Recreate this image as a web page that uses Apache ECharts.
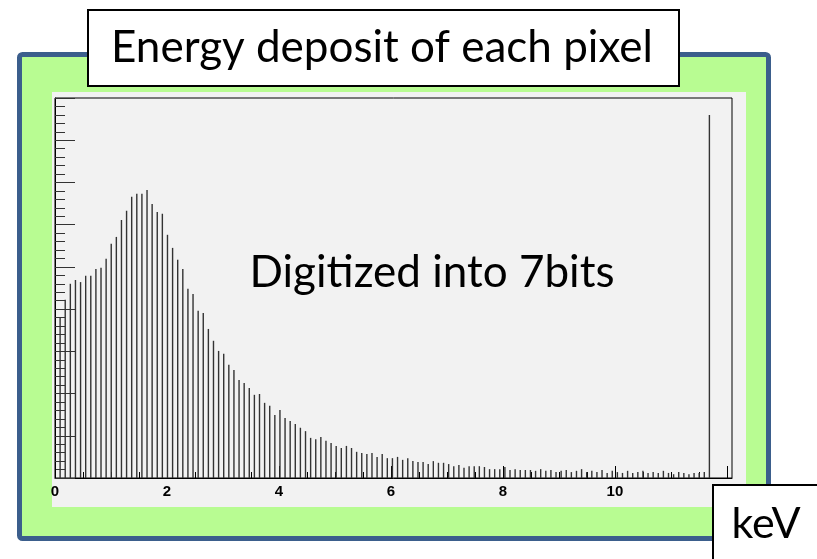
<!DOCTYPE html>
<html>
<head>
<meta charset="utf-8">
<script src="https://cdn.jsdelivr.net/npm/echarts@6/dist/echarts.min.js"></script>
<style>
html, body { margin: 0; padding: 0; background: #fff; }
#main { width: 817px; height: 559px; }
</style>
</head>
<body>
<div id="main"></div>
<script>
// energy per ADC channel (7 bits -> 128 channels)
const binWidth = 0.0913;
// counts per channel (arbitrary units, 100 per major y tick)
const counts = [
  379, 422, 460, 469, 464, 479, 479, 495, 498, 519,
  555, 571, 611, 633, 666, 673, 673, 682, 649, 630,
  626, 576, 545, 517, 495, 448, 436, 396, 391, 353,
  325, 301, 294, 268, 256, 232, 225, 213, 197, 199,
  178, 171, 149, 161, 142, 135, 128, 119, 111, 95,
  92, 97, 88, 83, 76, 71, 76, 71, 62, 59,
  57, 59, 50, 57, 47, 47, 50, 43, 47, 40,
  38, 38, 33, 40, 36, 36, 33, 28, 31, 24,
  28, 28, 28, 26, 21, 21, 21, 26, 19, 21,
  19, 19, 19, 17, 21, 17, 19, 14, 17, 19,
  14, 17, 21, 14, 17, 14, 19, 12, 17, 14,
  12, 17, 12, 14, 17, 12, 14, 12, 17, 12,
  9, 14, 12, 9, 12, 12, 14, 860
];
const xTickValues = [0, 2, 4, 6, 8, 10, 12];
const titleText = 'Energy deposit of each pixel';
const noteText = 'Digitized into 7bits';
const unitText = 'keV';

let chart = echarts.init(document.getElementById('main'));

let option = {
  backgroundColor: '#fff',
  animation: false,
  grid: {
    left: 55,
    top: 98,
    right: 85,
    bottom: 81,
    show: true,
    borderColor: '#000',
    borderWidth: 1,
    backgroundColor: 'transparent'
  },
  xAxis: {
    type: 'value',
    min: 0,
    max: 12.09,
    interval: 2,
    axisLine: { show: true, lineStyle: { color: '#000', width: 1 } },
    axisTick: {
      show: true, inside: true, length: 12,
      customValues: xTickValues,
      lineStyle: { color: '#000' }
    },
    minorTick: { show: true, splitNumber: 4, length: 6, lineStyle: { color: '#000' } },
    splitLine: { show: false },
    axisLabel: {
      show: true,
      margin: 6,
      color: '#000',
      fontFamily: 'Liberation Sans',
      fontWeight: 'bold',
      fontSize: 15,
      customValues: xTickValues
    }
  },
  yAxis: {
    type: 'value',
    min: 0,
    max: 900,
    interval: 100,
    axisLine: { show: true, lineStyle: { color: '#000', width: 1 } },
    axisTick: { show: true, inside: true, length: 20, lineStyle: { color: '#333' } },
    minorTick: { show: true, splitNumber: 5, length: 10, lineStyle: { color: '#333' } },
    splitLine: { show: false },
    axisLabel: { show: false }
  },
  series: [{
    type: 'bar',
    barWidth: 1.4,
    itemStyle: { color: '#333' },
    data: counts.map(function (v, i) {
      return [(i + 1) * binWidth, v];
    })
  }],
  graphic: [
    // green panel with blue border
    {
      type: 'rect',
      z: -10,
      shape: { x: 19.5, y: 54.5, width: 749, height: 484, r: 3 },
      style: { fill: '#b8fc92', stroke: '#3b5e8c', lineWidth: 5 }
    },
    // light plot canvas
    {
      type: 'rect',
      z: -9,
      shape: { x: 52, y: 92, width: 694, height: 415 },
      style: { fill: '#f2f2f2' }
    },
    // title box
    {
      type: 'rect',
      z: 100,
      shape: { x: 88, y: 10, width: 591, height: 76 },
      style: { fill: '#fff', stroke: '#000', lineWidth: 2 }
    },
    {
      type: 'text',
      z: 101,
      x: 382,
      y: 48,
      style: {
        text: titleText,
        fontFamily: 'Lato',
        fontSize: 44,
        fill: '#000',
        align: 'center',
        verticalAlign: 'middle'
      }
    },
    {
      type: 'text',
      z: 101,
      x: 432,
      y: 273,
      style: {
        text: noteText,
        fontFamily: 'Lato',
        fontSize: 44,
        fill: '#000',
        align: 'center',
        verticalAlign: 'middle'
      }
    },
    // unit box
    {
      type: 'rect',
      z: 100,
      shape: { x: 713, y: 485, width: 110, height: 80 },
      style: { fill: '#fff', stroke: '#000', lineWidth: 2 }
    },
    {
      type: 'text',
      z: 101,
      x: 766,
      y: 524,
      style: {
        text: unitText,
        fontFamily: 'Lato',
        fontSize: 43,
        fill: '#000',
        align: 'center',
        verticalAlign: 'middle'
      }
    }
  ]
};

chart.setOption(option);
</script>
</body>
</html>
